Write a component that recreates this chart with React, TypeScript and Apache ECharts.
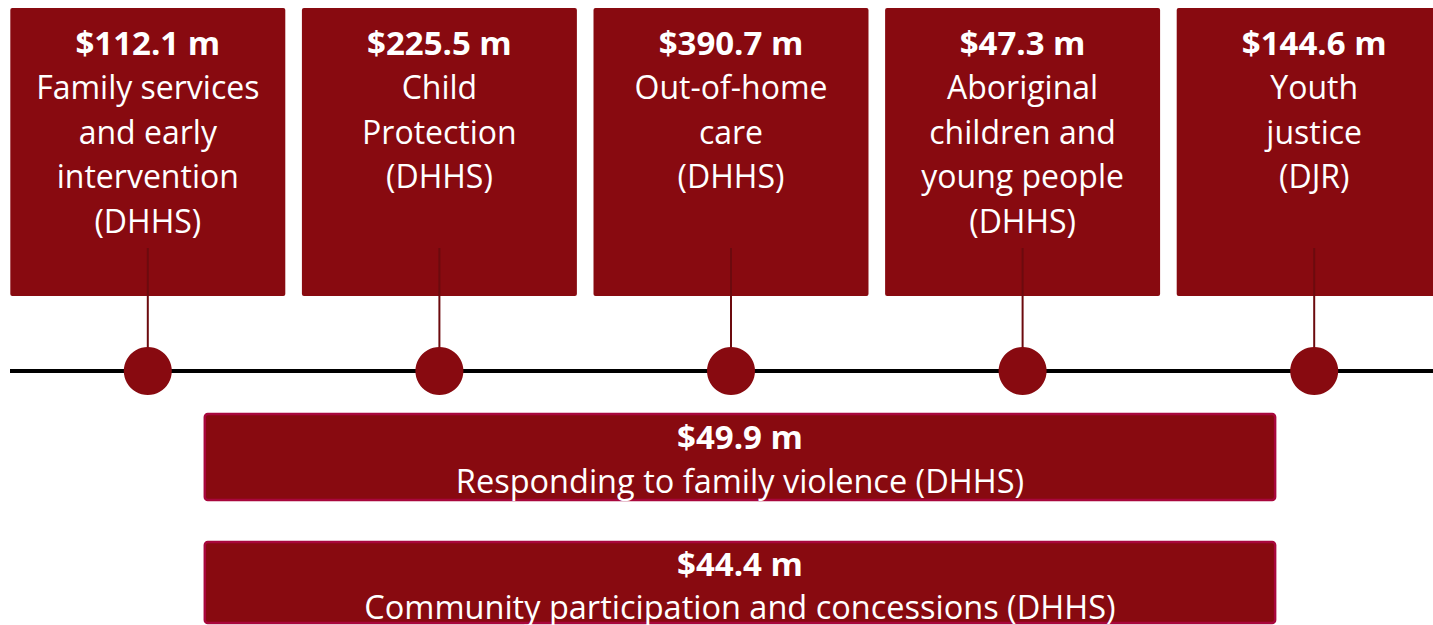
import React, { useEffect, useRef } from "react";
import * as echarts from "echarts";

// ---- data ----
const programs = [
  "Family services and early intervention (DHHS)",
  "Child Protection (DHHS)",
  "Out-of-home care (DHHS)",
  "Aboriginal children and young people (DHHS)",
  "Youth justice (DJR)",
];
const programAmounts = [112.1, 225.5, 390.7, 47.3, 144.6];
const programLines = [
  ["Family services", "and early", "intervention", "(DHHS)"],
  ["Child", "Protection", "(DHHS)"],
  ["Out-of-home", "care", "(DHHS)"],
  ["Aboriginal", "children and", "young people", "(DHHS)"],
  ["Youth", "justice", "(DJR)"],
];
const crossPrograms = [
  "Responding to family violence (DHHS)",
  "Community participation and concessions (DHHS)",
];
const crossAmounts = [49.9, 44.4];

const RED = "#880a10";
const BORDER = "#a8073c";
const STEM = "#6c0a0e";
const FONT = "'Open Sans', 'Noto Sans', sans-serif";

const fmt = (v: number) => `$${v.toFixed(1)} m`;

export default function App() {
  const ref = useRef<HTMLDivElement>(null);

  useEffect(() => {
    if (!ref.current) return;
    const chart = echarts.init(ref.current, null, { renderer: "svg" });

    const option: any = {
      animation: false,
      backgroundColor: "#ffffff",
      grid: { left: 2, right: 0, top: 117, bottom: 0 },
      xAxis: {
        type: "category",
        data: programs,
        boundaryGap: true,
        axisLine: { show: false },
        axisTick: { show: false },
        axisLabel: { show: false },
        splitLine: { show: false },
      },
      yAxis: {
        type: "value",
        min: -1,
        max: 1,
        axisLine: { show: false },
        axisTick: { show: false },
        axisLabel: { show: false },
        splitLine: { show: false },
      },
      graphic: [
        {
          type: "line",
          shape: { x1: 10, y1: 371, x2: 1433, y2: 371 },
          style: { stroke: "#000000", lineWidth: 4 },
          z: 1,
        },
      ],
      series: [
        {
          type: "custom",
          name: "programs",
          z: 2,
          clip: false,
          data: programAmounts.map((v, i) => [i, 0, v]),
          renderItem: (params: any, api: any) => {
            const idx = api.value(0);
            const amount = api.value(2);
            const [cx, cy] = api.coord([idx, 0]);
            const step = api.size([1, 0])[0];
            const w = step * 0.943;
            const top = cy - 363;
            const lines = programLines[idx] || [];
            const children: any[] = [
              {
                type: "rect",
                shape: { x: cx - w / 2, y: top, width: w, height: 288, r: 2 },
                style: { fill: RED },
              },
              {
                type: "line",
                shape: { x1: cx, y1: cy - 123, x2: cx, y2: cy - 20 },
                style: { stroke: STEM, lineWidth: 2 },
              },
              {
                type: "text",
                x: cx,
                y: top + 34,
                style: {
                  text: fmt(amount),
                  fill: "#ffffff",
                  font: `bold 33px ${FONT}`,
                  textAlign: "center",
                  textVerticalAlign: "middle",
                },
              },
            ];
            lines.forEach((ln, k) => {
              children.push({
                type: "text",
                x: cx,
                y: top + 78.5 + k * 44.5,
                style: {
                  text: ln,
                  fill: "#ffffff",
                  font: `32px ${FONT}`,
                  textAlign: "center",
                  textVerticalAlign: "middle",
                },
              });
            });
            return { type: "group", children };
          },
        },
        {
          type: "scatter",
          name: "timeline",
          z: 3,
          symbol: "circle",
          symbolSize: 48,
          itemStyle: { color: RED, opacity: 1 },
          data: programAmounts.map((v, i) => [i, 0]),
          silent: true,
        },
        {
          type: "custom",
          name: "cross",
          z: 2,
          clip: false,
          data: crossAmounts.map((v, i) => [0, 0, v, i]),
          renderItem: (params: any, api: any) => {
            const amount = api.value(2);
            const row = api.value(3);
            const [cx0, cy] = api.coord([0, 0]);
            const step = api.size([1, 0])[0];
            const x0 = cx0 + step * 0.1955;
            const x1 = cx0 + step * 3.866;
            const top = cy + 43 + row * 128;
            const h = row === 0 ? 86 : 81;
            const mid = (x0 + x1) / 2;
            return {
              type: "group",
              children: [
                {
                  type: "rect",
                  shape: { x: x0, y: top, width: x1 - x0, height: h, r: 3 },
                  style: { fill: RED, stroke: BORDER, lineWidth: 2.5 },
                },
                {
                  type: "text",
                  x: mid,
                  y: top + 22.5 - row * 1.5,
                  style: {
                    text: fmt(amount),
                    fill: "#ffffff",
                    font: `bold 33px ${FONT}`,
                    textAlign: "center",
                    textVerticalAlign: "middle",
                  },
                },
                {
                  type: "text",
                  x: mid,
                  y: top + 66 - row * 1.5,
                  z2: 5,
                  style: {
                    text: crossPrograms[row],
                    fill: "#ffffff",
                    font: `32.5px ${FONT}`,
                    textAlign: "center",
                    textVerticalAlign: "middle",
                  },
                },
              ],
            };
          },
        },
      ],
    };

    chart.setOption(option);
    return () => chart.dispose();
  }, []);

  return (
    <div
      style={{
        position: "fixed",
        left: 0,
        top: 0,
        width: 1433,
        height: 625,
        background: "#ffffff",
        overflow: "hidden",
      }}
    >
      <div ref={ref} style={{ width: 1460, height: 625 }} />
    </div>
  );
}
